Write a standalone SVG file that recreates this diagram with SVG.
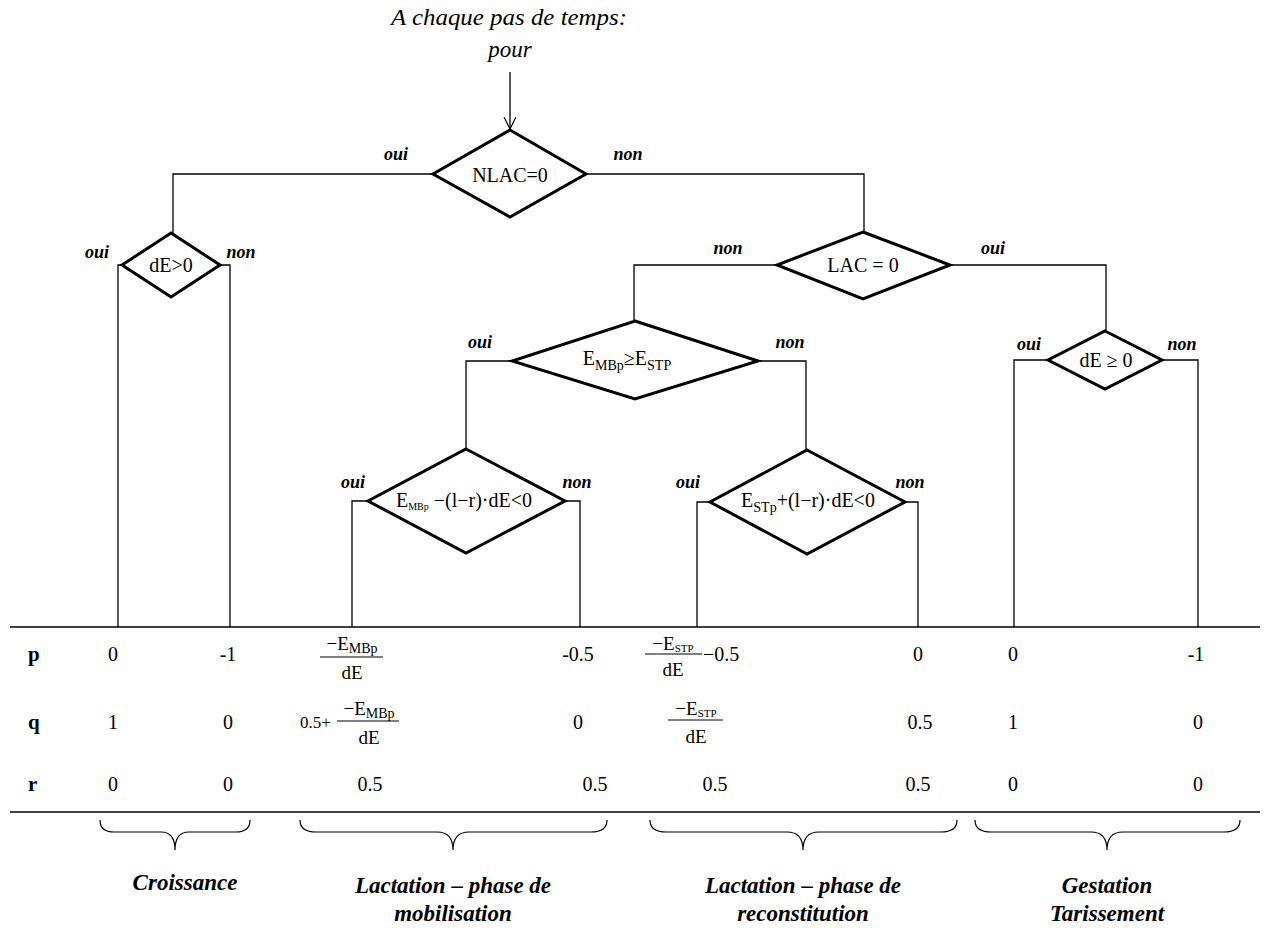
<svg xmlns="http://www.w3.org/2000/svg" width="1266" height="928" viewBox="0 0 1266 928" font-family="'Liberation Serif', 'Times New Roman', serif">
<style>
  text { font-family: "Liberation Serif", "Times New Roman", serif; fill: #000; }
  .t { font-size: 20px; }
  .c { text-anchor: middle; }
  .lab { font-size: 18px; font-weight: bold; font-style: italic; }
  .row { font-size: 21px; font-weight: bold; }
  .cat { font-size: 23px; font-weight: bold; font-style: italic; text-anchor: middle; }
  .sub { font-size: 14px; }
  .dia { fill: #fff; stroke: #000; stroke-width: 3; stroke-linejoin: miter; }
  .wire { fill: none; stroke: #000; stroke-width: 1.3; }
  .rule { stroke: #000; stroke-width: 1.5; }
  .brace { fill: none; stroke: #000; stroke-width: 1.2; }
</style>
<defs>
  <marker id="arr" markerWidth="14" markerHeight="14" refX="12" refY="6" orient="auto" markerUnits="userSpaceOnUse">
    <path d="M0,0 L12,6 L0,12" fill="none" stroke="#000" stroke-width="1.2"/>
  </marker>
</defs>

<g id="title">
  <text x="509" y="25" class="c" style="font-size:23px;font-style:italic" textLength="236" lengthAdjust="spacingAndGlyphs">A chaque pas de temps:</text>
  <text x="510" y="57" class="c" style="font-size:23px;font-style:italic">pour</text>
</g>

<g id="connectors">
  <line x1="510" y1="72" x2="510" y2="129" class="wire" marker-end="url(#arr)"/>
  <polyline points="433,174 173,174 173,233" class="wire"/>
  <polyline points="586,174 864,174 864,232" class="wire"/>
  <polyline points="122,265 118,265 118,627" class="wire"/>
  <polyline points="220,265 230,265 230,627" class="wire"/>
  <polyline points="777,265 634,265 634,321" class="wire"/>
  <polyline points="950,265 1106,265 1106,331" class="wire"/>
  <polyline points="512,361 466,361 466,449" class="wire"/>
  <polyline points="758,361 806,361 806,450" class="wire"/>
  <polyline points="368,501 352,501 352,627" class="wire"/>
  <polyline points="565,501 580,501 580,627" class="wire"/>
  <polyline points="710,502 697,502 697,627" class="wire"/>
  <polyline points="905,502 918,502 918,627" class="wire"/>
  <polyline points="1048,360 1014,360 1014,627" class="wire"/>
  <polyline points="1162,360 1198,360 1198,627" class="wire"/>
</g>

<g id="labels">
  <text x="396" y="160" class="lab c">oui</text>
  <text x="628" y="160" class="lab c">non</text>
  <text x="97" y="258" class="lab c">oui</text>
  <text x="241" y="258" class="lab c">non</text>
  <text x="728" y="254" class="lab c">non</text>
  <text x="993" y="254" class="lab c">oui</text>
  <text x="480" y="348" class="lab c">oui</text>
  <text x="790" y="348" class="lab c">non</text>
  <text x="353" y="488" class="lab c">oui</text>
  <text x="577" y="488" class="lab c">non</text>
  <text x="688" y="488" class="lab c">oui</text>
  <text x="910" y="488" class="lab c">non</text>
  <text x="1029" y="350" class="lab c">oui</text>
  <text x="1182" y="350" class="lab c">non</text>
</g>

<g id="n-nlac">
  <polygon points="510,130 586,174 510,217 433,174" class="dia"/>
  <text x="510" y="182" class="t c">NLAC=0</text>
</g>
<g id="n-de-gt">
  <polygon points="171,233 220,265 171,297 122,265" class="dia"/>
  <text x="171" y="272" class="t c">dE&gt;0</text>
</g>
<g id="n-lac">
  <polygon points="863,232 950,265 863,299 777,265" class="dia"/>
  <text x="863" y="272" class="t c">LAC = 0</text>
</g>
<g id="n-embp-estp">
  <polygon points="635,321 758,361 635,399 512,361" class="dia"/>
  <text x="627" y="365" class="t c">E<tspan class="sub" dy="5">MBp</tspan><tspan dy="-5">≥E</tspan><tspan class="sub" dy="5">STP</tspan></text>
</g>
<g id="n-embp-cond">
  <polygon points="466,449 565,501 466,553 368,501" class="dia"/>
  <text x="464" y="507" class="t c">E<tspan style="font-size:10px" dy="3">MBp</tspan><tspan dy="-3"> −(l−r)·dE&lt;0</tspan></text>
</g>
<g id="n-estp-cond">
  <polygon points="807,450 905,502 807,554 710,502" class="dia"/>
  <text x="808" y="507" class="t c">E<tspan class="sub" dy="5">STp</tspan><tspan dy="-5">+(l−r)·dE&lt;0</tspan></text>
</g>
<g id="n-de-ge">
  <polygon points="1105,331 1162,360 1105,389 1048,360" class="dia"/>
  <text x="1106" y="367" class="t c">dE ≥ 0</text>
</g>

<g id="table">
  <line x1="10" y1="627" x2="1260" y2="627" class="rule"/>
  <line x1="10" y1="812" x2="1260" y2="812" class="rule"/>
  <text x="28" y="661" class="row">p</text>
  <text x="28" y="729" class="row">q</text>
  <text x="28" y="791" class="row">r</text>

  <text x="113" y="661" class="t c">0</text>
  <text x="228" y="661" class="t c">-1</text>
  <text x="113" y="729" class="t c">1</text>
  <text x="228" y="729" class="t c">0</text>
  <text x="113" y="791" class="t c">0</text>
  <text x="228" y="791" class="t c">0</text>

  <text x="352" y="650" class="c" style="font-size:19px">−E<tspan class="sub" dy="3">MBp</tspan></text>
  <line x1="320" y1="657" x2="383" y2="657" stroke="#000" stroke-width="1"/>
  <text x="352" y="679" class="c" style="font-size:19px">dE</text>
  <text x="578" y="661" class="t c">-0.5</text>

  <text x="300" y="728" style="font-size:17px">0.5+</text>
  <text x="369" y="715" class="c" style="font-size:19px">−E<tspan class="sub" dy="3">MBp</tspan></text>
  <line x1="337" y1="721" x2="399" y2="721" stroke="#000" stroke-width="1"/>
  <text x="369" y="744" class="c" style="font-size:19px">dE</text>
  <text x="578" y="729" class="t c">0</text>

  <text x="370" y="791" class="t c">0.5</text>
  <text x="595" y="791" class="t c">0.5</text>

  <text x="673" y="650" class="c" style="font-size:19px">−E<tspan style="font-size:11px" dy="2">STP</tspan></text>
  <line x1="645" y1="654" x2="702" y2="654" stroke="#000" stroke-width="1"/>
  <text x="673" y="676" class="c" style="font-size:19px">dE</text>
  <text x="703" y="661" class="t">−0.5</text>
  <text x="918" y="661" class="t c">0</text>

  <text x="696" y="715" class="c" style="font-size:19px">−E<tspan style="font-size:11px" dy="2">STP</tspan></text>
  <line x1="668" y1="720" x2="723" y2="720" stroke="#000" stroke-width="1"/>
  <text x="696" y="743" class="c" style="font-size:19px">dE</text>
  <text x="920" y="729" class="t c">0.5</text>

  <text x="715" y="791" class="t c">0.5</text>
  <text x="918" y="791" class="t c">0.5</text>

  <text x="1013" y="661" class="t c">0</text>
  <text x="1196" y="661" class="t c">-1</text>
  <text x="1013" y="729" class="t c">1</text>
  <text x="1198" y="729" class="t c">0</text>
  <text x="1013" y="791" class="t c">0</text>
  <text x="1198" y="791" class="t c">0</text>
</g>

<g id="braces">
  <path d="M100,820 Q100,832 114,832 L161,832 Q175,832 175,850 Q175,832 189,832 L236,832 Q250,832 250,820" class="brace"/>
  <path d="M300,820 Q300,832 316,832 L437,832 Q453,832 453,850 Q453,832 469,832 L591,832 Q607,832 607,820" class="brace"/>
  <path d="M650,820 Q650,832 666,832 L787,832 Q803,832 803,850 Q803,832 819,832 L941,832 Q957,832 957,820" class="brace"/>
  <path d="M975,820 Q975,832 991,832 L1091,832 Q1107,832 1107,850 Q1107,832 1123,832 L1224,832 Q1240,832 1240,820" class="brace"/>
</g>

<g id="categories">
  <text x="185" y="890" class="cat">Croissance</text>
  <text x="453" y="893" class="cat">Lactation – phase de</text>
  <text x="453" y="921" class="cat">mobilisation</text>
  <text x="803" y="893" class="cat">Lactation – phase de</text>
  <text x="803" y="921" class="cat">reconstitution</text>
  <text x="1107" y="893" class="cat">Gestation</text>
  <text x="1107" y="921" class="cat">Tarissement</text>
</g>
</svg>
